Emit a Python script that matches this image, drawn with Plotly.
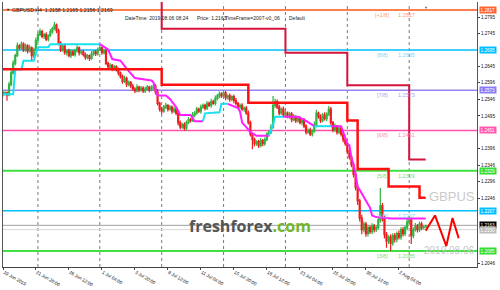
import plotly.graph_objects as go

# ---------------- data ----------------
closes = [
    1.2565, 1.2562, 1.2565, 1.2559, 1.2591, 1.2626, 1.2655, 1.2678, 1.2708, 1.2702,
    1.2713, 1.2696, 1.2708, 1.2693, 1.2702, 1.2678, 1.2696, 1.2725, 1.2742, 1.2751,
    1.2737, 1.2742, 1.2728, 1.2739, 1.2751, 1.2760, 1.2771, 1.2754, 1.2716, 1.2696,
    1.2708, 1.2687, 1.2693, 1.2678, 1.2690, 1.2681, 1.2693, 1.2702, 1.2687, 1.2690,
    1.2681, 1.2673, 1.2678, 1.2670, 1.2684, 1.2690, 1.2684, 1.2696, 1.2702, 1.2687,
    1.2693, 1.2655, 1.2644, 1.2649, 1.2638, 1.2644, 1.2635, 1.2626, 1.2615, 1.2600,
    1.2609, 1.2591, 1.2597, 1.2586, 1.2577, 1.2571, 1.2583, 1.2574, 1.2580, 1.2571,
    1.2577, 1.2583, 1.2574, 1.2580, 1.2586, 1.2568, 1.2533, 1.2516, 1.2510, 1.2522,
    1.2527, 1.2516, 1.2522, 1.2510, 1.2516, 1.2504, 1.2475, 1.2461, 1.2469, 1.2458,
    1.2475, 1.2484, 1.2481, 1.2498, 1.2504, 1.2516, 1.2510, 1.2522, 1.2527, 1.2519,
    1.2533, 1.2527, 1.2539, 1.2533, 1.2548, 1.2556, 1.2562, 1.2556, 1.2565, 1.2551,
    1.2556, 1.2545, 1.2554, 1.2542, 1.2533, 1.2522, 1.2527, 1.2516, 1.2519, 1.2504,
    1.2475, 1.2440, 1.2423, 1.2411, 1.2417, 1.2405, 1.2420, 1.2411, 1.2423, 1.2440,
    1.2446, 1.2461, 1.2527, 1.2539, 1.2522, 1.2504, 1.2516, 1.2498, 1.2504, 1.2493,
    1.2501, 1.2484, 1.2493, 1.2481, 1.2487, 1.2475, 1.2481, 1.2464, 1.2446, 1.2452,
    1.2440, 1.2449, 1.2469, 1.2504, 1.2493, 1.2481, 1.2498, 1.2487, 1.2501, 1.2516,
    1.2475, 1.2452, 1.2464, 1.2446, 1.2458, 1.2440, 1.2423, 1.2411, 1.2388, 1.2370,
    1.2347, 1.2318, 1.2278, 1.2237, 1.2185, 1.2150, 1.2167, 1.2138, 1.2156, 1.2144,
    1.2161, 1.2150, 1.2156, 1.2179, 1.2222, 1.2185, 1.2135, 1.2115, 1.2127, 1.2109,
    1.2132, 1.2121, 1.2138, 1.2127, 1.2150, 1.2138, 1.2156, 1.2173, 1.2179, 1.2132,
    1.2150, 1.2161, 1.2150, 1.2167, 1.2156, 1.2158, 1.2163,
]
first_open = 1.2568
upper_wick_pips = [
    4, 6, 5, 4, 8, 7, 9, 6, 10, 5,
    8, 6, 7, 5, 9, 4, 6, 8, 7, 10,
    6, 5, 7, 4, 8, 6, 9, 5, 7, 6,
    5, 8, 4, 6, 7, 5, 6, 8, 4, 5,
    6, 7, 5, 4, 8, 6, 5, 7, 9, 4,
    6, 8, 5, 7, 4, 6, 5, 7, 4, 6,
    8, 5, 6, 4, 7, 5, 8, 4, 6, 5,
    7, 6, 4, 8, 5, 6, 9, 5, 7, 6,
    8, 4, 6, 5, 7, 4, 8, 6, 5, 7,
    6, 8, 5, 9, 6, 7, 4, 8, 6, 5,
    7, 6, 8, 5, 9, 6, 7, 5, 8, 6,
    5, 7, 4, 6, 8, 5, 6, 7, 5, 6,
    8, 6, 5, 7, 4, 6, 8, 5, 7, 6,
    5, 9, 29, 8, 6, 7, 5, 8, 6, 5,
    7, 6, 8, 4, 6, 7, 5, 8, 6, 5,
    7, 6, 9, 10, 5, 7, 6, 8, 5, 9,
    6, 5, 8, 4, 6, 7, 5, 6, 5, 7,
    6, 8, 7, 9, 6, 10, 8, 6, 9, 7,
    8, 6, 7, 10, 54, 9, 7, 8, 6, 9,
    7, 8, 6, 9, 7, 8, 6, 10, 12, 8,
    7, 9, 6, 8, 7, 5, 2,
]
lower_wick_pips = [
    6, 8, 5, 18, 4, 6, 5, 7, 4, 6,
    5, 7, 6, 8, 5, 17, 6, 5, 7, 4,
    6, 8, 5, 7, 4, 6, 5, 8, 6, 7,
    5, 6, 8, 5, 7, 4, 6, 5, 8, 6,
    5, 7, 6, 8, 5, 6, 7, 5, 4, 6,
    5, 6, 8, 5, 7, 6, 5, 8, 6, 7,
    5, 8, 6, 7, 5, 6, 4, 7, 5, 6,
    6, 5, 7, 4, 6, 8, 6, 7, 9, 5,
    6, 7, 5, 8, 6, 7, 9, 6, 5, 8,
    7, 5, 6, 4, 7, 5, 6, 8, 5, 7,
    6, 5, 7, 4, 6, 5, 7, 6, 5, 8,
    6, 7, 5, 8, 6, 5, 7, 6, 8, 5,
    6, 7, 29, 8, 6, 7, 5, 8, 6, 5,
    7, 6, 5, 8, 6, 7, 5, 6, 7, 5,
    6, 8, 5, 7, 6, 5, 8, 6, 7, 5,
    6, 7, 5, 8, 6, 7, 5, 6, 8, 6,
    7, 6, 5, 8, 6, 7, 8, 6, 9, 7,
    8, 10, 9, 12, 10, 14, 8, 10, 9, 7,
    8, 9, 7, 6, 8, 10, 12, 20, 9, 23,
    8, 10, 9, 7, 8, 9, 7, 8, 6, 26,
    8, 6, 9, 7, 8, 6, 2,
]
assert len(closes) == len(upper_wick_pips) == len(lower_wick_pips) == 207

# Murrey Math levels
murrey_names = ["[+1/8]", "[8/8]", "[7/8]", "[6/8]", "[5/8]", "[4/8]", "[3/8]"]
murrey_levels = [1.2817, 1.2695, 1.2573, 1.2451, 1.2329, 1.2207, 1.2085]

# step lines (weekly: dark red, daily: bright red)
weekly_bars = [60, 78, 138, 168, 198, 206]
weekly_levels = [1.2900, 1.2760, 1.2687, 1.2588, 1.2363, 1.2363]
daily_bars = [0, 78, 120, 168, 173, 188, 203, 206]
daily_levels = [1.2637, 1.2590, 1.2535, 1.2481, 1.2334, 1.2281, 1.2247, 1.2247]

# trailing line segments (cyan = up, magenta = down)
trail_segments = [
    ("up",   [1, 6, 7, 10, 11, 16, 18, 23, 24, 48],
             [1.2561, 1.2561, 1.2636, 1.2636, 1.2663, 1.2663, 1.2704, 1.2704, 1.2713, 1.2713]),
    ("down", [48, 52, 54, 58, 61, 65, 73, 74, 76, 80, 82, 85, 87, 92, 94, 98],
             [1.2713, 1.2697, 1.2668, 1.2663, 1.2639, 1.2610, 1.2603, 1.2597, 1.2557, 1.2557,
              1.2547, 1.2522, 1.2498, 1.2498, 1.2479, 1.2479]),
    ("up",   [98, 99, 106, 107, 110], [1.2479, 1.2503, 1.2506, 1.2532, 1.2532]),
    ("down", [110, 115, 116, 117, 119, 121, 124, 130],
             [1.2532, 1.2519, 1.2508, 1.2475, 1.2461, 1.2446, 1.2435, 1.2435]),
    ("up",   [130, 132, 133, 137], [1.2435, 1.2469, 1.2493, 1.2493]),
    ("down", [137, 144, 147, 152], [1.2493, 1.2493, 1.2484, 1.2464]),
    ("up",   [152, 160], [1.2464, 1.2464]),
    ("down", [160, 165, 168, 169, 170, 171, 172, 173, 174, 176, 178, 179, 180, 182, 189, 206],
             [1.2464, 1.2464, 1.2411, 1.2406, 1.2368, 1.2348, 1.2319, 1.2280, 1.2271, 1.2247,
              1.2227, 1.2217, 1.2193, 1.2188, 1.2184, 1.2184]),
]

# red forecast zigzag
forecast_bars = [206, 210.5, 216, 219, 222]
forecast_prices = [1.2147, 1.2193, 1.2100, 1.2185, 1.2124]

bid_price = 1.2163
aux_price = 1.2150

x_tick_bars = [1.2, 17, 33, 49, 65, 81, 97, 113, 129, 145, 161, 177, 193]
x_tick_text = ["19 Jun 2019", "21 Jun 20:00", "26 Jun 12:00", "1 Jul 04:00", "3 Jul 20:00",
               "8 Jul 12:00", "11 Jul 04:00", "15 Jul 20:00", "18 Jul 12:00", "23 Jul 04:00",
               "25 Jul 20:00", "30 Jul 12:00", "2 Aug 04:00"]
y_tick_vals = [1.2795, 1.2745, 1.2645, 1.2596, 1.2546, 1.2495, 1.2396, 1.2346,
               1.2296, 1.2246, 1.2046]
week_start_bars = [18, 48, 78, 108, 138, 168, 198]

header_ohlc = "GBPUSD,H4  1.2158 1.2165 1.2156 1.2163"
symbol_watermark = "GBPUS"
date_watermark = "2019.08.06"

# ---------------- styling ----------------
W, H = 500, 290
ML, MR, MT, MB = 2, 23, 2, 11
PW, PH = W - ML - MR, H - MT - MB
X_RANGE = [1.064, 230.87]
Y_RANGE = [1.20365, 1.28411]
FONT = "Liberation Sans"

murrey_line_colors = ["#FF7F50", "#00BFFF", "#9485F0", "#FF4FA8", "#3FE03F", "#00BFFF", "#3FE03F"]
murrey_line_widths = [2, 1.5, 1.5, 1.5, 2, 1.5, 2]
murrey_text_colors = ["#FF9C7A", "#7FD3F7", "#AFA2F2", "#FF86C0", "#77DD77", "#7FD3F7", "#77DD77"]
murrey_box_colors = ["#FF6530", "#00BFFF", "#8A7CF0", "#FF5AAE", "#33DD33", "#00BFFF", "#33DD33"]


def px_x(px):
    return (px - ML) / PW


def px_y(py):
    return (H - MB - py) / PH


opens = [first_open] + closes[:-1]
highs = [max(o, c) + u / 10000 for o, c, u in zip(opens, closes, upper_wick_pips)]
lows = [min(o, c) - d / 10000 for o, c, d in zip(opens, closes, lower_wick_pips)]
bars = list(range(len(closes)))

fig = go.Figure()

fig.add_trace(go.Candlestick(
    x=bars, open=opens, high=highs, low=lows, close=closes,
    increasing=dict(line=dict(color="#30B444", width=1.2), fillcolor="#30B444"),
    decreasing=dict(line=dict(color="#EE1C1C", width=1.2), fillcolor="#EE1C1C"),
    whiskerwidth=0, hoverinfo="skip"))

for kind, sb, sp in trail_segments:
    fig.add_trace(go.Scatter(x=sb, y=sp, mode="lines",
                             line=dict(color="#19E0F0" if kind == "up" else "#FF1EFF", width=2),
                             hoverinfo="skip"))

fig.add_trace(go.Scatter(x=weekly_bars, y=weekly_levels, mode="lines",
                         line=dict(color="#D4143C", width=2, shape="hv"), hoverinfo="skip"))
fig.add_trace(go.Scatter(x=daily_bars, y=daily_levels, mode="lines",
                         line=dict(color="#FF1010", width=2.5, shape="hv"), hoverinfo="skip"))
fig.add_trace(go.Scatter(x=forecast_bars, y=forecast_prices, mode="lines",
                         line=dict(color="#FF0000", width=2), hoverinfo="skip"))

shapes = []
for b in week_start_bars:
    shapes.append(dict(type="line", xref="x", yref="paper", x0=b, x1=b, y0=0, y1=0.997,
                       line=dict(color="#7A7A7A", width=1, dash="dot"), layer="below"))
shapes.append(dict(type="line", xref="paper", yref="y", x0=0, x1=1, y0=aux_price, y1=aux_price,
                   line=dict(color="#D8D8D8", width=1), layer="below"))
shapes.append(dict(type="line", xref="paper", yref="y", x0=0, x1=1, y0=bid_price, y1=bid_price,
                   line=dict(color="#A0A0A0", width=1), layer="below"))
for lvl, col, lw in zip(murrey_levels, murrey_line_colors, murrey_line_widths):
    shapes.append(dict(type="line", xref="paper", yref="y", x0=0, x1=1, y0=lvl, y1=lvl,
                       line=dict(color=col, width=lw), layer="below"))

annotations = []
# watermarks, kept inside the plot area
annotations.append(dict(x=px_x(476.5), y=px_y(215.5), xref="paper", yref="paper",
                        xanchor="right", text=symbol_watermark, showarrow=False,
                        font=dict(size=13, color="#CACACA", family=FONT)))
annotations.append(dict(x=px_x(476), y=px_y(269.5), xref="paper", yref="paper",
                        xanchor="right", text=date_watermark, showarrow=False,
                        font=dict(size=10, color="#C6C6C6", family=FONT)))

for name, lvl, tcol in zip(murrey_names, murrey_levels, murrey_text_colors):
    annotations.append(dict(x=185, y=lvl, xref="x", yref="y", text=name, showarrow=False,
                            yshift=-5, font=dict(size=5.5, color=tcol, family=FONT)))
    annotations.append(dict(x=196.5, y=lvl, xref="x", yref="y", text=f"{lvl:.4f}",
                            showarrow=False, yshift=-5,
                            font=dict(size=5.5, color=tcol, family=FONT)))

box_levels = murrey_levels + [bid_price, aux_price]
box_colors = murrey_box_colors + ["#000000", "#BDBDBD"]
for lvl, bc in zip(box_levels, box_colors):
    annotations.append(dict(x=1, y=lvl, xref="paper", yref="y", xanchor="left", xshift=1.5,
                            text=f"{lvl:.4f}", showarrow=False, bgcolor=bc, borderpad=0.6,
                            font=dict(size=4.6, color="#FFFFFF", family=FONT)))

# header texts
annotations.append(dict(x=px_x(3), y=px_y(5.6), xref="paper", yref="paper", text="▼",
                        showarrow=False, font=dict(size=4, color="#222", family=FONT)))
annotations.append(dict(x=px_x(9.5), y=px_y(5.6), xref="paper", yref="paper", xanchor="left",
                        text=header_ohlc, showarrow=False,
                        font=dict(size=5.2, color="#111", family=FONT)))
for px, txt in [(122, "DateTime: 2019.08.06 08:24"), (194, "Price: 1.2163"),
                (222, "TimeFrame=2007-v0_06"), (287, "Default")]:
    annotations.append(dict(x=px_x(px), y=px_y(13.4), xref="paper", yref="paper",
                            xanchor="left", text=txt, showarrow=False,
                            font=dict(size=5, color="#222", family=FONT)))
annotations.append(dict(x=px_x(430), y=px_y(3.2), xref="paper", yref="paper", text="▼",
                        showarrow=False, font=dict(size=4, color="#666", family=FONT)))

# logo
annotations.append(dict(x=px_x(250), y=px_y(250), xref="paper", yref="paper",
                        text="<b>freshforex<span style='color:#74B62C'>.com</span></b>",
                        showarrow=False, font=dict(size=16, color="#555555", family="Open Sans")))

fig.update_layout(
    width=W, height=H, margin=dict(l=ML, r=MR, t=MT, b=MB, pad=0),
    paper_bgcolor="white", plot_bgcolor="white", showlegend=False,
    shapes=shapes, annotations=annotations,
    xaxis=dict(range=X_RANGE, tickvals=x_tick_bars, ticktext=x_tick_text,
               ticks="outside", ticklen=2, tickcolor="#444", tickwidth=1,
               ticklabelposition="outside right",
               tickfont=dict(size=4.6, color="#111", family=FONT),
               showgrid=False, zeroline=False, showline=True, linecolor="#444", linewidth=1,
               rangeslider=dict(visible=False), fixedrange=True),
    yaxis=dict(range=Y_RANGE, side="right", tickvals=y_tick_vals,
               ticktext=[f"{v:.4f}" for v in y_tick_vals],
               ticks="outside", ticklen=2, tickcolor="#444",
               tickfont=dict(size=4.6, color="#111", family=FONT),
               showgrid=False, zeroline=False, showline=True, mirror=True,
               linecolor="#555", linewidth=1, fixedrange=True),
)

fig.write_html("out.html")
